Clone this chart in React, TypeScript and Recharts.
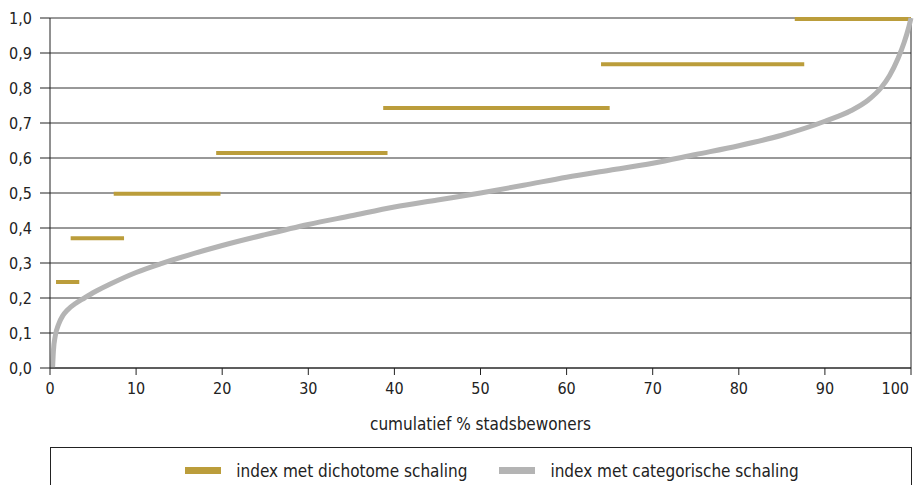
import React from 'react';
import { LineChart, Line, XAxis, YAxis, CartesianGrid, ReferenceLine, Legend } from 'recharts';

// dichotome schaling: horizontale treden (niveau, begin, eind in cumulatief %)
const dichoLevels = [0.246, 0.371, 0.498, 0.614, 0.743, 0.868, 0.997];
const dichoStart = [0.7, 2.4, 7.4, 19.3, 38.7, 64.0, 86.5];
const dichoEnd = [3.4, 8.6, 19.8, 39.2, 65.0, 87.6, 100];

// categorische schaling: doorlopende curve
const catX = [0.3, 0.4, 0.6, 1, 1.5, 2, 3, 4, 5, 7, 10, 13, 16, 20, 25, 30, 35, 40, 45, 50, 55, 60, 65, 70, 75, 80, 85, 90, 93, 95, 96.5, 97.5, 98.5, 99.2, 99.7, 100];
const catY = [0, 0.05, 0.09, 0.125, 0.15, 0.165, 0.185, 0.2, 0.215, 0.24, 0.273, 0.299, 0.322, 0.35, 0.381, 0.41, 0.435, 0.46, 0.48, 0.5, 0.522, 0.545, 0.565, 0.585, 0.61, 0.635, 0.665, 0.705, 0.735, 0.765, 0.8, 0.835, 0.885, 0.93, 0.97, 1.0];

const xTicks = [0, 10, 20, 30, 40, 50, 60, 70, 80, 90, 100];
const yTicks = [0, 0.1, 0.2, 0.3, 0.4, 0.5, 0.6, 0.7, 0.8, 0.9, 1.0];

const seriesNames = ['index met dichotome schaling', 'index met categorische schaling'];

const GOLD = '#BB9D3B';
const GREY = '#B4B4B4';
const INK = '#222';
const FONT = "'DejaVu Sans Condensed', 'Liberation Sans Narrow', 'DejaVu Sans', sans-serif";

const dichoData: Array<{ x: number; y: number | null }> = [];
dichoLevels.forEach((lvl, i) => {
  dichoData.push({ x: dichoStart[i], y: lvl });
  dichoData.push({ x: dichoEnd[i], y: lvl });
  if (i < dichoLevels.length - 1) dichoData.push({ x: dichoEnd[i], y: null });
});

const catData = catX.map((x, i) => ({ x, y: catY[i] }));

const XTick = (props: any) => {
  const { x, y, payload } = props;
  const last = payload.value === 100;
  return (
    <text
      x={last ? x + 2 : x}
      y={y}
      dy={11}
      textAnchor={last ? 'end' : 'middle'}
      fill={INK}
      fontFamily={FONT}
      fontSize={16}
    >
      {payload.value}
    </text>
  );
};

const LegendBox = (props: any) => {
  const payload = [...(props.payload || [])].sort(
    (a: any, b: any) => seriesNames.indexOf(a.value) - seriesNames.indexOf(b.value)
  );
  return (
    <div
      style={{
        border: `1px solid ${INK}`,
        borderBottom: 'none',
        height: 40,
        display: 'flex',
        justifyContent: 'center',
        alignItems: 'center',
        paddingTop: 6,
        paddingLeft: 22,
        boxSizing: 'border-box',
        fontFamily: FONT,
        fontSize: 17,
        color: INK,
      }}
    >
      {payload.map((p: any, i: number) => (
        <div key={i} style={{ display: 'flex', alignItems: 'center', marginRight: i === 0 ? 32 : 0 }}>
          <span style={{ display: 'inline-block', width: 36, height: 7, background: p.color, marginRight: 15 }} />
          <span>{p.value}</span>
        </div>
      ))}
    </div>
  );
};

export default function App() {
  return (
    <div style={{ position: 'absolute', left: 0, top: 0, background: '#fff' }}>
      <LineChart width={919} height={485} margin={{ top: 18, right: 8, left: 0, bottom: 45 }}>
        <CartesianGrid vertical={false} stroke="#333" strokeWidth={1} />
        <XAxis
          type="number"
          dataKey="x"
          domain={[0, 100]}
          ticks={xTicks}
          height={72}
          tickSize={7}
          tickMargin={8}
          stroke={INK}
          tick={<XTick />}
          label={{ value: 'cumulatief % stadsbewoners', position: 'insideBottom', offset: 10, fill: INK, fontFamily: FONT, fontSize: 17 }}
        />
        <YAxis
          type="number"
          domain={[0, 1]}
          ticks={yTicks}
          width={50}
          tickSize={10}
          tickMargin={8}
          stroke={INK}
          tick={{ fill: INK, fontFamily: FONT, fontSize: 16 }}
          tickFormatter={(v: number) => v.toFixed(1).replace('.', ',')}
        />
        <ReferenceLine x={100} stroke={INK} />
        <Legend
          layout="horizontal"
          verticalAlign="middle"
          align="center"
          wrapperStyle={{ left: 50, top: 447, width: 862 }}
          content={<LegendBox />}
        />
        <Line
          data={dichoData}
          dataKey="y"
          name={seriesNames[0]}
          type="linear"
          stroke={GOLD}
          strokeWidth={4}
          strokeLinecap="butt"
          dot={false}
          activeDot={false}
          connectNulls={false}
          isAnimationActive={false}
        />
        <Line
          data={catData}
          dataKey="y"
          name={seriesNames[1]}
          type="monotone"
          stroke={GREY}
          strokeWidth={5}
          dot={false}
          activeDot={false}
          isAnimationActive={false}
        />
      </LineChart>
    </div>
  );
}
